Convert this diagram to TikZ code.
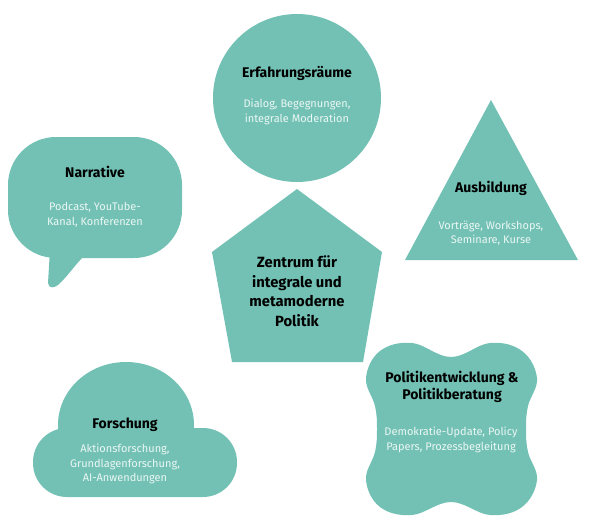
\documentclass[tikz,border=0pt]{standalone}
\usepackage{fontspec}
\setmainfont{Fira Sans}
\usetikzlibrary{positioning}
\definecolor{zteal}{RGB}{114,193,180}
\definecolor{zlight}{RGB}{236,247,244}
\tikzset{
	area/.style={fill=zteal, draw=none},
	headline/.style={font=\bfseries\fontsize{14}{17}\selectfont, text=black, align=center},
	coreline/.style={font=\bfseries\fontsize{14.8}{19.5}\selectfont, text=black, align=center},
	subline/.style={font=\fontsize{11}{14.5}\selectfont, text=zlight, align=center}
}

\begin{document}
\begin{tikzpicture}[x=1pt,y=-1pt]
\useasboundingbox (0,0) rectangle (590,522);
% shapes
\fill [area] (297,98) circle (84);
\fill [area] (297,189) -- (382,252) -- (363,362) -- (232,362) -- (212,252) -- cycle;
\fill [area] (491,100) -- (578,260) -- (405,260) -- cycle;
\fill [area, rounded corners=48] (8,137) rectangle (182,258);
\fill [area] (50,250) -- (48,283) .. controls (49,289) and (54,288) .. (58,285) .. controls (68,276) and (74,266) .. (84,256) -- cycle;
\fill [area, rounded corners=34] (33,428) rectangle (237,497);
\fill [area] (126,425) ellipse (68 and 63);
\fill [area] plot [smooth cycle, tension=0.65] coordinates {
  (451,357) (490,343) (522,351) (537,378) (528,406) (526,429) (528,452)
  (537,480) (522,507) (490,515) (451,502) (412,515) (380,507) (366,480)
  (375,452) (377,429) (375,406) (366,378) (380,351) (412,343)};
% texts
\node [headline] (erfahrung) at (297,73) {Erfahrungsräume};
\node [subline] (erfahrungSub) at (297,112) {Dialog, Begegnungen,\\integrale Moderation};
\node [headline] (narrativ) at (95,172) {Narrative};
\node [subline] (narrativSub) at (95,215) {Podcast, YouTube-\\Kanal, Konferenzen};
\node [headline] (ausbildung) at (491,188) {Ausbildung};
\node [subline] (ausbildungSub) at (491,233) {Vorträge, Workshops,\\Seminare, Kurse};
\node [coreline] (zentrum) at (297,291) {Zentrum für\\integrale und\\metamoderne\\Politik};
\node [headline] (forschung) at (125,425) {Forschung};
\node [subline] (forschungSub) at (125,464) {Aktionsforschung,\\Grundlagenforschung,\\AI-Anwendungen};
\node [headline] (politik) at (452,387) {Politikentwicklung \&\\Politikberatung};
\node [subline] (politikSub) at (451,440) {Demokratie-Update, Policy\\Papers, Prozessbegleitung};
\end{tikzpicture}
\end{document}
